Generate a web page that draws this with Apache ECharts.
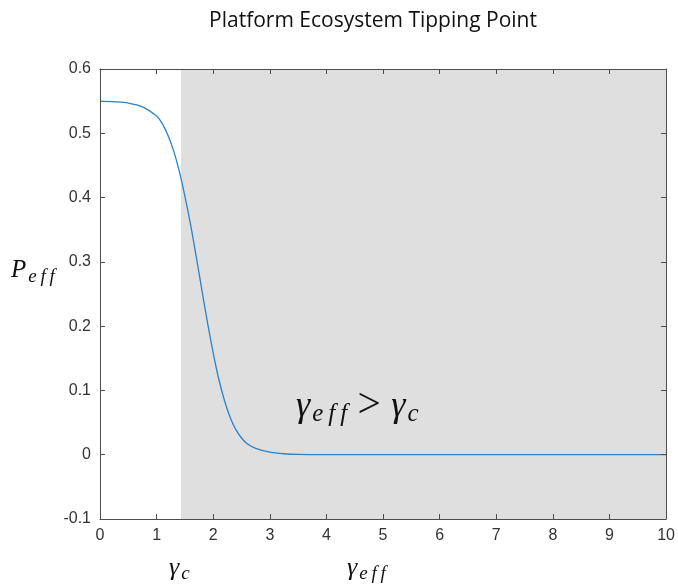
<!DOCTYPE html>
<html>
<head>
<meta charset="utf-8">
<script src="https://cdn.jsdelivr.net/npm/echarts@6/dist/echarts.min.js"></script>
<style>html,body{margin:0;padding:0;background:#fff;overflow:hidden;}#c{width:678px;height:586px;}</style>
</head>
<body>
<div id="c"></div>
<script>
const titleText = 'Platform Ecosystem Tipping Point';
const gammaEff = [0, 0.25, 0.5, 0.75, 1.0, 1.1, 1.2, 1.3, 1.4, 1.5, 1.6, 1.7, 1.8, 1.9, 2.0, 2.1, 2.2, 2.3, 2.4, 2.5, 2.6, 2.75, 3.0, 3.25, 3.5, 4, 5, 6, 7, 8, 9, 10];
const pEff = [0.550, 0.549, 0.547, 0.541, 0.527, 0.515, 0.497, 0.473, 0.441, 0.402, 0.358, 0.308, 0.256, 0.205, 0.158, 0.117, 0.084, 0.058, 0.039, 0.026, 0.017, 0.010, 0.004, 0.0015, 0.0005, 0.0001, 0, 0, 0, 0, 0, 0];
const gammaC = 1.43;
const xRange = [0, 10];
const yRange = [-0.1, 0.6];

const axisColor = '#4d4d4d';
const labelStyle = {color: '#333', fontFamily: 'Liberation Sans, Arial', fontSize: 16};
const mathFont = 'Liberation Serif';
const sp = '\u2009';
const chart = echarts.init(document.getElementById('c'));
const baseX = {
  type: 'value', min: xRange[0], max: xRange[1], interval: 1, z: 10,
  axisLine: {show: true, onZero: false, lineStyle: {color: axisColor, width: 1}},
  axisTick: {show: true, inside: true, length: 5, lineStyle: {color: axisColor}},
  splitLine: {show: false}
};
const baseY = {
  type: 'value', min: yRange[0], max: yRange[1], interval: 0.1, z: 10,
  axisLine: {show: true, onZero: false, lineStyle: {color: axisColor, width: 1}},
  axisTick: {show: true, inside: true, length: 5, lineStyle: {color: axisColor}},
  splitLine: {show: false}
};
function mathRich(base, sub, pad) {
  return {
    b: {fontFamily: mathFont, fontStyle: 'italic', fontSize: base, fill: '#111'},
    o: {fontFamily: mathFont, fontSize: base * 1.15, fill: '#111'},
    s: {fontFamily: mathFont, fontStyle: 'italic', fontSize: sub, fill: '#111', padding: [pad, 0, 0, 2]}
  };
}
const effSub = 'e' + sp + 'f' + sp + 'f';
chart.setOption({
  animation: false,
  title: {
    text: titleText, left: 368, top: 6, textAlign: 'center',
    textStyle: {fontFamily: 'Open Sans', fontWeight: 'normal', fontSize: 21, color: '#111'}
  },
  grid: {left: 100, right: 7, top: 69, bottom: 67},
  xAxis: [
    Object.assign({}, baseX, {position: 'bottom', axisLabel: Object.assign({margin: 9}, labelStyle)}),
    Object.assign({}, baseX, {position: 'top', axisLabel: {show: false}})
  ],
  yAxis: [
    Object.assign({}, baseY, {position: 'left', axisLabel: Object.assign({margin: 9, formatter: v => String(Math.round(v * 10) / 10)}, labelStyle)}),
    Object.assign({}, baseY, {position: 'right', axisLabel: {show: false}})
  ],
  series: [{
    type: 'line',
    data: gammaEff.map((x, i) => [x, pEff[i]]),
    smooth: 0.3,
    showSymbol: false,
    lineStyle: {color: '#2b83c6', width: 1.3},
    markArea: {
      silent: true,
      itemStyle: {color: '#dfdfdf'},
      data: [[{xAxis: gammaC}, {xAxis: xRange[1]}]]
    },
    z: 3
  }],
  graphic: [
    {
      type: 'text', left: 11, top: 258,
      style: {text: '{b|P}{s|' + effSub + '}', rich: mathRich(25, 19, 12)}
    },
    {
      type: 'text', left: 169, top: 555,
      style: {text: '{b|γ}{s|c}', rich: mathRich(26, 19, 11)}
    },
    {
      type: 'text', left: 296, top: 386, z: 10,
      style: {text: '{b|γ}{s|' + effSub + '}{o| > }{b|γ}{s|c}', rich: mathRich(36, 25, 16)}
    },
    {
      type: 'text', left: 347, top: 555,
      style: {text: '{b|γ}{s|' + effSub + '}', rich: mathRich(26, 19, 11)}
    }
  ]
});
</script>
</body>
</html>
